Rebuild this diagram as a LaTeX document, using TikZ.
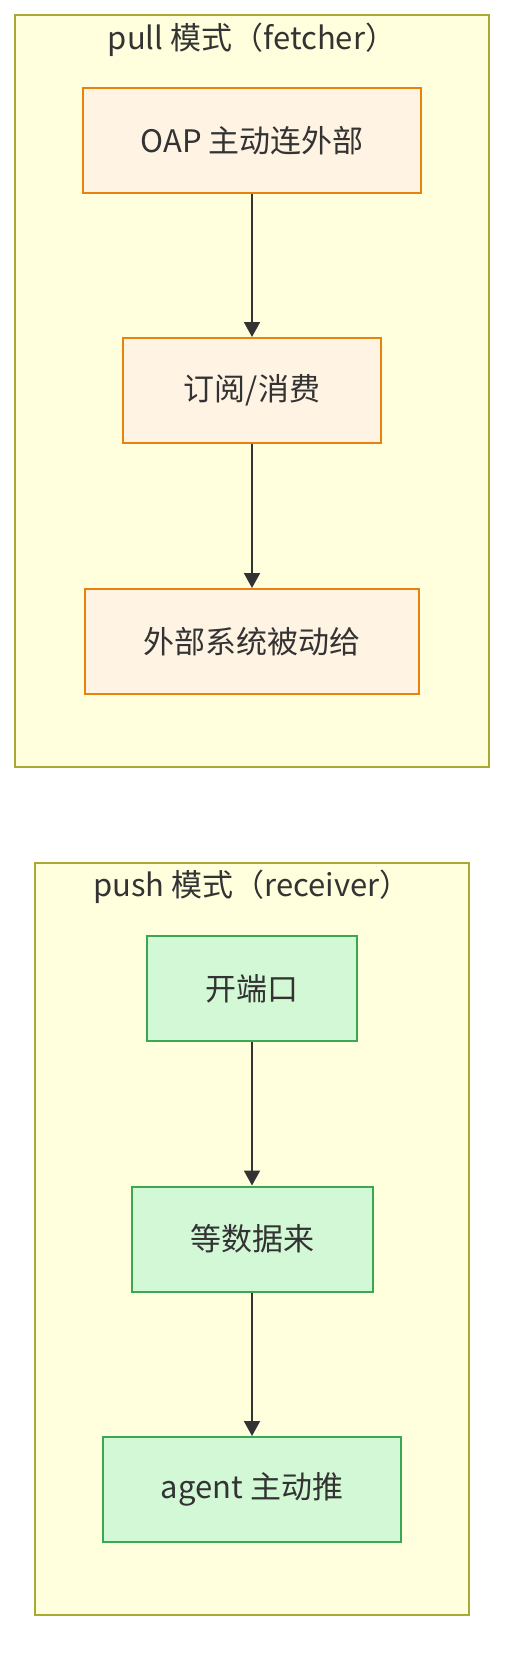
\documentclass[tikz,border=0pt]{standalone}
\usepackage{fontspec}
\setmainfont{Noto Sans CJK SC}
\usetikzlibrary{arrows.meta}
\definecolor{clfill}{HTML}{FFFFDE}
\definecolor{clline}{HTML}{AAAA33}
\definecolor{orfill}{HTML}{FFF3E3}
\definecolor{orline}{HTML}{E8820C}
\definecolor{grfill}{HTML}{D3F8D6}
\definecolor{grline}{HTML}{3AA852}
\definecolor{txt}{HTML}{333333}
\tikzset{
  cluster/.style={draw=clline, fill=clfill, line width=0.6pt},
  cltitle/.style={text=txt, font=\fontsize{15.5pt}{18pt}\selectfont, inner sep=0pt},
  basebox/.style={rectangle, line width=1pt, minimum height=52.5pt, inner sep=0pt,
    text=txt, font=\fontsize{15.5pt}{18pt}\selectfont},
  orbox/.style={basebox, draw=orline, fill=orfill},
  grbox/.style={basebox, draw=grline, fill=grfill},
  flow/.style={draw=txt, line width=1pt, -{Triangle[length=7.5pt,width=8pt]}}
}
\begin{document}
\begin{tikzpicture}[x=0.5pt,y=-0.5pt]
\useasboundingbox[fill=white] (0,0) rectangle (520,1680);
% pull cluster
\path[cluster] (15,15) rectangle (489,767);
\node[cltitle] (pulltitle) at (252,40) {pull 模式（fetcher）};
\node[orbox, minimum width=169pt] (oap) at (252,140.5) {OAP 主动连外部};
\node[orbox, minimum width=129pt] (sub) at (252,390.5) {订阅/消费};
\node[orbox, minimum width=167pt] (ext) at (252,641.5) {外部系统被动给};
\draw[flow] (oap) -- (sub);
\draw[flow] (sub) -- (ext);
% push cluster
\path[cluster] (35,863) rectangle (469,1615);
\node[cltitle] (pushtitle) at (252,887) {push 模式（receiver）};
\node[grbox, minimum width=105pt] (port) at (252,988.5) {开端口};
\node[grbox, minimum width=120.5pt] (wait) at (252,1239) {等数据来};
\node[grbox, minimum width=149pt] (agent) at (252,1489.5) {agent 主动推};
\draw[flow] (port) -- (wait);
\draw[flow] (wait) -- (agent);
\end{tikzpicture}
\end{document}
